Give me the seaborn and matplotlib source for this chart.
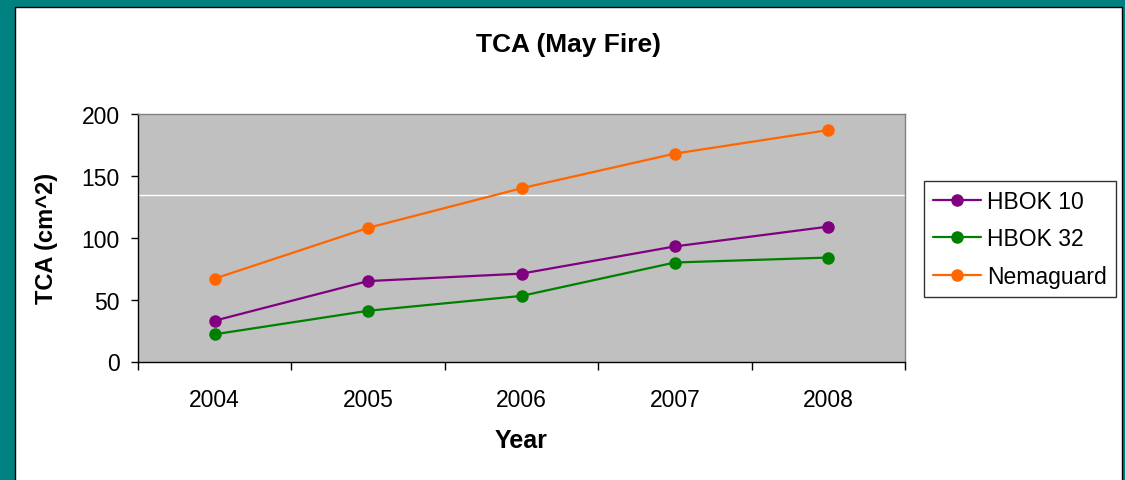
import matplotlib.pyplot as plt
import matplotlib.patches as mpatches
import seaborn as sns
import pandas as pd

# --- Data ---
years = ['2004', '2005', '2006', '2007', '2008']
hbok10 = [33, 65, 71, 93, 109]
hbok32 = [22, 41, 53, 80, 84]
nemaguard = [67, 108, 140, 168, 187]
series_names = ['HBOK 10', 'HBOK 32', 'Nemaguard']
colors = ['#800080', '#008000', '#FF6600']

df = pd.DataFrame({
    'Year': years * 3,
    'TCA': hbok10 + hbok32 + nemaguard,
    'Series': [s for s in series_names for _ in years],
})

sns.set_style('white')
plt.rcParams['font.family'] = ['Liberation Sans', 'DejaVu Sans']
plt.rcParams['text.color'] = 'black'
plt.rcParams['axes.labelcolor'] = 'black'
plt.rcParams['xtick.color'] = 'black'
plt.rcParams['ytick.color'] = 'black'

fig = plt.figure(figsize=(11.25, 4.81), dpi=100)
fig.patch.set_facecolor('#008080')
# white chart area with thin black frame
frame = mpatches.Rectangle((15 / 1125, -0.01), (1122 - 15) / 1125, 1 - 7.5 / 481 + 0.01,
                           transform=fig.transFigure, facecolor='white',
                           edgecolor='black', linewidth=1, zorder=-10)
fig.add_artist(frame)

ax = fig.add_axes([138 / 1125, 1 - 362.5 / 481, (905 - 138) / 1125, (362.5 - 115) / 481])
ax.set_zorder(5)
ax.set_facecolor('#C0C0C0')

sns.lineplot(data=df, x='Year', y='TCA', hue='Series', palette=colors, marker='o',
             markersize=9, markeredgewidth=0, linewidth=1.6, ax=ax, sort=False)

ax.axhline(134.3, color='white', linewidth=1, zorder=1)

ax.set_ylim(0, 200)
ax.set_yticks([0, 50, 100, 150, 200])
ax.set_xlim(-0.5, 4.5)
ax.set_xticks([i - 0.5 for i in range(6)])
ax.set_xticklabels([])
ax.set_xticks(range(5), minor=True)
ax.set_xticklabels(years, minor=True)
ax.tick_params(axis='x', which='major', direction='out', length=6, width=1, color='black', bottom=True)
ax.tick_params(axis='x', which='minor', length=0, pad=19, labelsize=16.5)
ax.tick_params(axis='y', direction='out', length=5, width=1, color='black', pad=8, labelsize=16.5, left=True)

for side in ['left', 'bottom']:
    ax.spines[side].set_color('black')
    ax.spines[side].set_linewidth(1)
for side in ['top', 'right']:
    ax.spines[side].set_color('#808080')
    ax.spines[side].set_linewidth(1)

ax.set_xlabel('Year', fontsize=18, fontweight='bold', labelpad=12)
ax.set_ylabel('TCA (cm^2)', fontsize=17, fontweight='bold', labelpad=17)
fig.text(568 / 1125, 1 - 45 / 481, 'TCA (May Fire)', fontsize=19, fontweight='bold',
         ha='center', va='center', zorder=6)

leg = ax.legend(loc='upper left', bbox_to_anchor=(924 / 1125, 1 - 182 / 481),
                bbox_transform=fig.transFigure, fontsize=16.5, frameon=True, fancybox=False,
                shadow=False, handlelength=2.1, handletextpad=0.25, labelspacing=0.62,
                borderpad=0.4, borderaxespad=0)
leg.get_frame().set_edgecolor('black')
leg.get_frame().set_linewidth(1)

plt.savefig('out.png', dpi=100, facecolor=fig.get_facecolor())
